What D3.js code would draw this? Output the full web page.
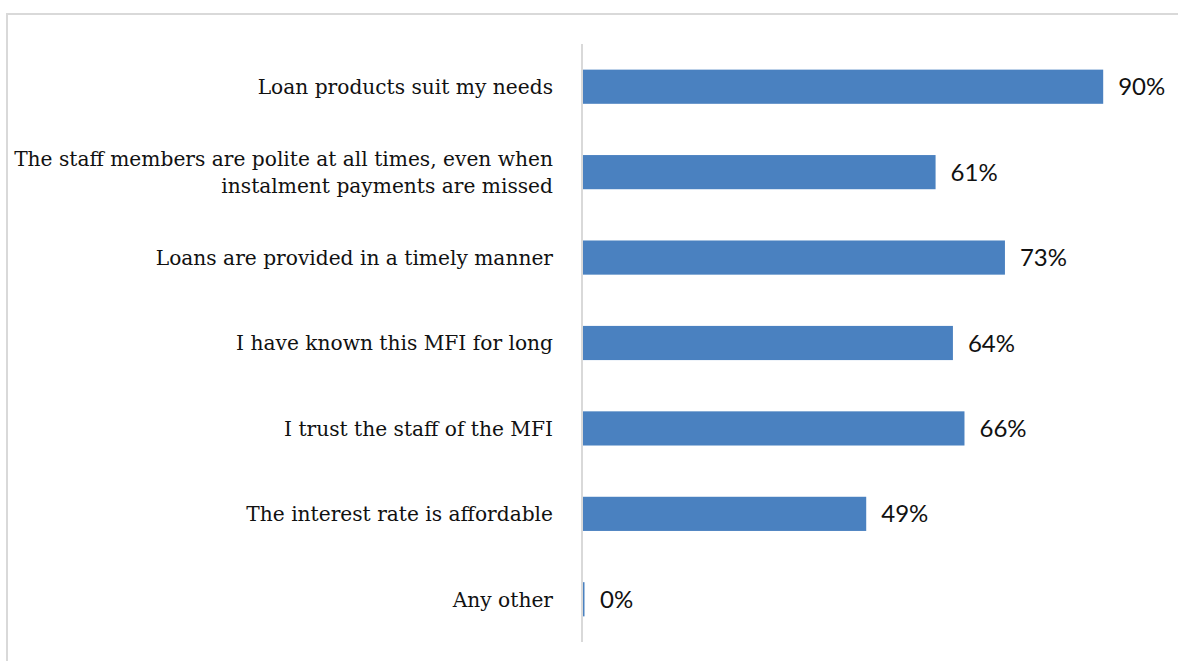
<!DOCTYPE html>
<html><head><meta charset="utf-8">
<script src="https://cdn.jsdelivr.net/npm/d3@7"></script>
<style>body{margin:0;background:#fff}svg{display:block}</style>
</head><body>
<svg id="c" width="1178" height="661"></svg>
<script>
const categories = [
  ["Loan products suit my needs"],
  ["The staff members are polite at all times, even when", "instalment payments are missed"],
  ["Loans are provided in a timely manner"],
  ["I have known this MFI for long"],
  ["I trust the staff of the MFI"],
  ["The interest rate is affordable"],
  ["Any other"]
];
const values = [90, 61, 73, 64, 66, 49, 0];
const valueLabels = ["90%", "61%", "73%", "64%", "66%", "49%", "0%"];

const svg = d3.select("#c");
// frame
svg.append("rect").attr("x", 7).attr("y", 14).attr("width", 1200).attr("height", 700)
  .attr("fill", "none").attr("stroke", "#d9d9d9").attr("stroke-width", 2);

const ids = categories.map((d, i) => i);
const y = d3.scaleBand().domain(ids).range([44, 642]).paddingInner(0.6).paddingOuter(0.3);
const x = d3.scaleLinear().domain([0, 100]).range([583, 1161]);

svg.append("line").attr("x1", 582).attr("x2", 582).attr("y1", 44).attr("y2", 642)
  .attr("stroke", "#d9d9d9").attr("stroke-width", 2);

svg.selectAll("rect.bar").data(ids).join("rect").attr("class", "bar")
  .attr("x", x(0)).attr("y", i => y(i))
  .attr("width", i => Math.max(1.5, x(values[i]) - x(0)))
  .attr("height", y.bandwidth()).attr("fill", "#4a81c0");

svg.selectAll("text.val").data(ids).join("text").attr("class", "val")
  .attr("x", i => Math.max(x(values[i]), x(0) + 2) + 15)
  .attr("y", i => y(i) + y.bandwidth() / 2)
  .attr("dy", "0.36em")
  .attr("font-family", "Lato, sans-serif").attr("font-size", 24).attr("fill", "#111")
  .text(i => valueLabels[i]);

const lab = svg.selectAll("text.cat").data(ids).join("text").attr("class", "cat")
  .attr("text-anchor", "end")
  .attr("font-family", "DejaVu Serif, serif").attr("font-size", 20.2).attr("fill", "#111")
  .attr("y", i => y(i) + y.bandwidth() / 2);
lab.each(function(i) {
  const lines = categories[i];
  const n = lines.length;
  d3.select(this).selectAll("tspan").data(lines).join("tspan")
    .attr("x", 553)
    .attr("dy", (d, j) => j === 0 ? ((0.36 - (n - 1) * 0.67) + "em") : "1.34em")
    .text(d => d);
});
</script>
</body></html>
